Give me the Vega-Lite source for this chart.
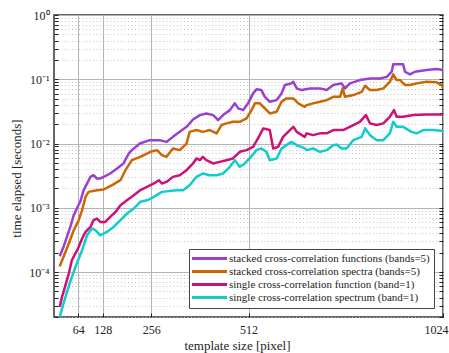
{
  "$schema": "https://vega.github.io/schema/vega-lite/v6.json",
  "width": 389,
  "height": 302,
  "autosize": {"type": "none"},
  "padding": {"left": 54, "top": 15, "right": 6, "bottom": 36},
  "background": "white",
  "config": {
    "view": {"stroke": "#333333", "strokeWidth": 1.5},
    "font": "Liberation Serif",
    "axis": {"labelFont": "Liberation Serif", "titleFont": "Liberation Serif", "titleFontWeight": "normal", "labelColor": "#222", "titleColor": "#222", "domain": false},
    "legend": {"labelFont": "Liberation Serif"}
  },
  "data": {"values": [
    {"series": "stacked cross-correlation functions (bands=5)", "size": 15, "time": 1.76e-4},
    {"series": "stacked cross-correlation functions (bands=5)", "size": 25, "time": 2.46e-4},
    {"series": "stacked cross-correlation functions (bands=5)", "size": 34, "time": 3.52e-4},
    {"series": "stacked cross-correlation functions (bands=5)", "size": 43, "time": 5.04e-4},
    {"series": "stacked cross-correlation functions (bands=5)", "size": 52, "time": 7.67e-4},
    {"series": "stacked cross-correlation functions (bands=5)", "size": 60, "time": 9.75e-4},
    {"series": "stacked cross-correlation functions (bands=5)", "size": 69, "time": 1.24e-3},
    {"series": "stacked cross-correlation functions (bands=5)", "size": 78, "time": 1.88e-3},
    {"series": "stacked cross-correlation functions (bands=5)", "size": 87, "time": 2.39e-3},
    {"series": "stacked cross-correlation functions (bands=5)", "size": 96, "time": 3.03e-3},
    {"series": "stacked cross-correlation functions (bands=5)", "size": 104, "time": 3.22e-3},
    {"series": "stacked cross-correlation functions (bands=5)", "size": 113, "time": 2.86e-3},
    {"series": "stacked cross-correlation functions (bands=5)", "size": 122, "time": 2.86e-3},
    {"series": "stacked cross-correlation functions (bands=5)", "size": 131, "time": 3.03e-3},
    {"series": "stacked cross-correlation functions (bands=5)", "size": 148, "time": 3.42e-3},
    {"series": "stacked cross-correlation functions (bands=5)", "size": 166, "time": 4.09e-3},
    {"series": "stacked cross-correlation functions (bands=5)", "size": 183, "time": 4.90e-3},
    {"series": "stacked cross-correlation functions (bands=5)", "size": 197, "time": 7.01e-3},
    {"series": "stacked cross-correlation functions (bands=5)", "size": 205, "time": 7.89e-3},
    {"series": "stacked cross-correlation functions (bands=5)", "size": 226, "time": 1.0e-2},
    {"series": "stacked cross-correlation functions (bands=5)", "size": 252, "time": 1.13e-2},
    {"series": "stacked cross-correlation functions (bands=5)", "size": 278, "time": 1.13e-2},
    {"series": "stacked cross-correlation functions (bands=5)", "size": 296, "time": 1.06e-2},
    {"series": "stacked cross-correlation functions (bands=5)", "size": 313, "time": 1.27e-2},
    {"series": "stacked cross-correlation functions (bands=5)", "size": 331, "time": 1.52e-2},
    {"series": "stacked cross-correlation functions (bands=5)", "size": 349, "time": 1.82e-2},
    {"series": "stacked cross-correlation functions (bands=5)", "size": 366, "time": 2.37e-2},
    {"series": "stacked cross-correlation functions (bands=5)", "size": 384, "time": 2.77e-2},
    {"series": "stacked cross-correlation functions (bands=5)", "size": 401, "time": 2.94e-2},
    {"series": "stacked cross-correlation functions (bands=5)", "size": 419, "time": 2.77e-2},
    {"series": "stacked cross-correlation functions (bands=5)", "size": 432, "time": 2.31e-2},
    {"series": "stacked cross-correlation functions (bands=5)", "size": 445, "time": 2.77e-2},
    {"series": "stacked cross-correlation functions (bands=5)", "size": 463, "time": 3.31e-2},
    {"series": "stacked cross-correlation functions (bands=5)", "size": 476, "time": 4.22e-2},
    {"series": "stacked cross-correlation functions (bands=5)", "size": 485, "time": 3.52e-2},
    {"series": "stacked cross-correlation functions (bands=5)", "size": 498, "time": 3.31e-2},
    {"series": "stacked cross-correlation functions (bands=5)", "size": 511, "time": 4.22e-2},
    {"series": "stacked cross-correlation functions (bands=5)", "size": 524, "time": 6.03e-2},
    {"series": "stacked cross-correlation functions (bands=5)", "size": 533, "time": 6.97e-2},
    {"series": "stacked cross-correlation functions (bands=5)", "size": 546, "time": 6.79e-2},
    {"series": "stacked cross-correlation functions (bands=5)", "size": 555, "time": 5.33e-2},
    {"series": "stacked cross-correlation functions (bands=5)", "size": 568, "time": 4.47e-2},
    {"series": "stacked cross-correlation functions (bands=5)", "size": 586, "time": 4.74e-2},
    {"series": "stacked cross-correlation functions (bands=5)", "size": 599, "time": 6.03e-2},
    {"series": "stacked cross-correlation functions (bands=5)", "size": 608, "time": 8.13e-2},
    {"series": "stacked cross-correlation functions (bands=5)", "size": 625, "time": 8.63e-2},
    {"series": "stacked cross-correlation functions (bands=5)", "size": 630, "time": 9.14e-2},
    {"series": "stacked cross-correlation functions (bands=5)", "size": 639, "time": 7.21e-2},
    {"series": "stacked cross-correlation functions (bands=5)", "size": 652, "time": 6.79e-2},
    {"series": "stacked cross-correlation functions (bands=5)", "size": 674, "time": 7.21e-2},
    {"series": "stacked cross-correlation functions (bands=5)", "size": 700, "time": 7.21e-2},
    {"series": "stacked cross-correlation functions (bands=5)", "size": 718, "time": 6.79e-2},
    {"series": "stacked cross-correlation functions (bands=5)", "size": 735, "time": 8.13e-2},
    {"series": "stacked cross-correlation functions (bands=5)", "size": 757, "time": 8.63e-2},
    {"series": "stacked cross-correlation functions (bands=5)", "size": 766, "time": 7.21e-2},
    {"series": "stacked cross-correlation functions (bands=5)", "size": 779, "time": 8.63e-2},
    {"series": "stacked cross-correlation functions (bands=5)", "size": 805, "time": 9.72e-2},
    {"series": "stacked cross-correlation functions (bands=5)", "size": 832, "time": 0.103},
    {"series": "stacked cross-correlation functions (bands=5)", "size": 858, "time": 0.103},
    {"series": "stacked cross-correlation functions (bands=5)", "size": 876, "time": 0.109},
    {"series": "stacked cross-correlation functions (bands=5)", "size": 889, "time": 0.131},
    {"series": "stacked cross-correlation functions (bands=5)", "size": 893, "time": 0.171},
    {"series": "stacked cross-correlation functions (bands=5)", "size": 919, "time": 0.171},
    {"series": "stacked cross-correlation functions (bands=5)", "size": 924, "time": 0.131},
    {"series": "stacked cross-correlation functions (bands=5)", "size": 937, "time": 0.119},
    {"series": "stacked cross-correlation functions (bands=5)", "size": 950, "time": 0.131},
    {"series": "stacked cross-correlation functions (bands=5)", "size": 981, "time": 0.139},
    {"series": "stacked cross-correlation functions (bands=5)", "size": 1007, "time": 0.144},
    {"series": "stacked cross-correlation functions (bands=5)", "size": 1024, "time": 0.139},

    {"series": "stacked cross-correlation spectra (bands=5)", "size": 15, "time": 1.23e-4},
    {"series": "stacked cross-correlation spectra (bands=5)", "size": 25, "time": 1.72e-4},
    {"series": "stacked cross-correlation spectra (bands=5)", "size": 39, "time": 2.78e-4},
    {"series": "stacked cross-correlation spectra (bands=5)", "size": 52, "time": 4.48e-4},
    {"series": "stacked cross-correlation spectra (bands=5)", "size": 65, "time": 6.41e-4},
    {"series": "stacked cross-correlation spectra (bands=5)", "size": 74, "time": 9.18e-4},
    {"series": "stacked cross-correlation spectra (bands=5)", "size": 83, "time": 1.48e-3},
    {"series": "stacked cross-correlation spectra (bands=5)", "size": 91, "time": 1.77e-3},
    {"series": "stacked cross-correlation spectra (bands=5)", "size": 113, "time": 1.88e-3},
    {"series": "stacked cross-correlation spectra (bands=5)", "size": 131, "time": 1.93e-3},
    {"series": "stacked cross-correlation spectra (bands=5)", "size": 153, "time": 2.25e-3},
    {"series": "stacked cross-correlation spectra (bands=5)", "size": 175, "time": 2.69e-3},
    {"series": "stacked cross-correlation spectra (bands=5)", "size": 188, "time": 3.85e-3},
    {"series": "stacked cross-correlation spectra (bands=5)", "size": 205, "time": 5.51e-3},
    {"series": "stacked cross-correlation spectra (bands=5)", "size": 227, "time": 6.21e-3},
    {"series": "stacked cross-correlation spectra (bands=5)", "size": 254, "time": 7.43e-3},
    {"series": "stacked cross-correlation spectra (bands=5)", "size": 271, "time": 7.89e-3},
    {"series": "stacked cross-correlation spectra (bands=5)", "size": 284, "time": 6.59e-3},
    {"series": "stacked cross-correlation spectra (bands=5)", "size": 296, "time": 6.21e-3},
    {"series": "stacked cross-correlation spectra (bands=5)", "size": 313, "time": 8.39e-3},
    {"series": "stacked cross-correlation spectra (bands=5)", "size": 331, "time": 7.89e-3},
    {"series": "stacked cross-correlation spectra (bands=5)", "size": 349, "time": 1.0e-2},
    {"series": "stacked cross-correlation spectra (bands=5)", "size": 357, "time": 1.52e-2},
    {"series": "stacked cross-correlation spectra (bands=5)", "size": 375, "time": 1.62e-2},
    {"series": "stacked cross-correlation spectra (bands=5)", "size": 392, "time": 1.52e-2},
    {"series": "stacked cross-correlation spectra (bands=5)", "size": 410, "time": 1.62e-2},
    {"series": "stacked cross-correlation spectra (bands=5)", "size": 428, "time": 1.44e-2},
    {"series": "stacked cross-correlation spectra (bands=5)", "size": 441, "time": 1.94e-2},
    {"series": "stacked cross-correlation spectra (bands=5)", "size": 454, "time": 2.06e-2},
    {"series": "stacked cross-correlation spectra (bands=5)", "size": 471, "time": 2.18e-2},
    {"series": "stacked cross-correlation spectra (bands=5)", "size": 489, "time": 2.18e-2},
    {"series": "stacked cross-correlation spectra (bands=5)", "size": 507, "time": 2.46e-2},
    {"series": "stacked cross-correlation spectra (bands=5)", "size": 520, "time": 3.31e-2},
    {"series": "stacked cross-correlation spectra (bands=5)", "size": 529, "time": 4.22e-2},
    {"series": "stacked cross-correlation spectra (bands=5)", "size": 542, "time": 4.22e-2},
    {"series": "stacked cross-correlation spectra (bands=5)", "size": 555, "time": 3.52e-2},
    {"series": "stacked cross-correlation spectra (bands=5)", "size": 568, "time": 2.94e-2},
    {"series": "stacked cross-correlation spectra (bands=5)", "size": 586, "time": 3.12e-2},
    {"series": "stacked cross-correlation spectra (bands=5)", "size": 599, "time": 4.47e-2},
    {"series": "stacked cross-correlation spectra (bands=5)", "size": 612, "time": 5.04e-2},
    {"series": "stacked cross-correlation spectra (bands=5)", "size": 630, "time": 5.04e-2},
    {"series": "stacked cross-correlation spectra (bands=5)", "size": 643, "time": 4.22e-2},
    {"series": "stacked cross-correlation spectra (bands=5)", "size": 660, "time": 3.73e-2},
    {"series": "stacked cross-correlation spectra (bands=5)", "size": 665, "time": 3.96e-2},
    {"series": "stacked cross-correlation spectra (bands=5)", "size": 682, "time": 4.22e-2},
    {"series": "stacked cross-correlation spectra (bands=5)", "size": 700, "time": 4.47e-2},
    {"series": "stacked cross-correlation spectra (bands=5)", "size": 718, "time": 4.74e-2},
    {"series": "stacked cross-correlation spectra (bands=5)", "size": 735, "time": 5.33e-2},
    {"series": "stacked cross-correlation spectra (bands=5)", "size": 753, "time": 5.33e-2},
    {"series": "stacked cross-correlation spectra (bands=5)", "size": 760, "time": 7.21e-2},
    {"series": "stacked cross-correlation spectra (bands=5)", "size": 766, "time": 5.33e-2},
    {"series": "stacked cross-correlation spectra (bands=5)", "size": 788, "time": 5.68e-2},
    {"series": "stacked cross-correlation spectra (bands=5)", "size": 810, "time": 6.38e-2},
    {"series": "stacked cross-correlation spectra (bands=5)", "size": 819, "time": 7.93e-2},
    {"series": "stacked cross-correlation spectra (bands=5)", "size": 832, "time": 6.79e-2},
    {"series": "stacked cross-correlation spectra (bands=5)", "size": 849, "time": 6.79e-2},
    {"series": "stacked cross-correlation spectra (bands=5)", "size": 867, "time": 7.21e-2},
    {"series": "stacked cross-correlation spectra (bands=5)", "size": 884, "time": 9.14e-2},
    {"series": "stacked cross-correlation spectra (bands=5)", "size": 893, "time": 0.119},
    {"series": "stacked cross-correlation spectra (bands=5)", "size": 902, "time": 9.72e-2},
    {"series": "stacked cross-correlation spectra (bands=5)", "size": 911, "time": 9.72e-2},
    {"series": "stacked cross-correlation spectra (bands=5)", "size": 924, "time": 8.13e-2},
    {"series": "stacked cross-correlation spectra (bands=5)", "size": 937, "time": 8.13e-2},
    {"series": "stacked cross-correlation spectra (bands=5)", "size": 955, "time": 8.63e-2},
    {"series": "stacked cross-correlation spectra (bands=5)", "size": 981, "time": 9.14e-2},
    {"series": "stacked cross-correlation spectra (bands=5)", "size": 1007, "time": 8.95e-2},
    {"series": "stacked cross-correlation spectra (bands=5)", "size": 1021, "time": 8.13e-2},
    {"series": "stacked cross-correlation spectra (bands=5)", "size": 1024, "time": 7.21e-2},

    {"series": "single cross-correlation function (band=1)", "size": 15, "time": 2.86e-5},
    {"series": "single cross-correlation function (band=1)", "size": 21, "time": 4.09e-5},
    {"series": "single cross-correlation function (band=1)", "size": 30, "time": 6.22e-5},
    {"series": "single cross-correlation function (band=1)", "size": 39, "time": 9.48e-5},
    {"series": "single cross-correlation function (band=1)", "size": 47, "time": 1.53e-4},
    {"series": "single cross-correlation function (band=1)", "size": 56, "time": 1.94e-4},
    {"series": "single cross-correlation function (band=1)", "size": 65, "time": 2.46e-4},
    {"series": "single cross-correlation function (band=1)", "size": 74, "time": 3.33e-4},
    {"series": "single cross-correlation function (band=1)", "size": 83, "time": 4.22e-4},
    {"series": "single cross-correlation function (band=1)", "size": 96, "time": 5.04e-4},
    {"series": "single cross-correlation function (band=1)", "size": 104, "time": 6.41e-4},
    {"series": "single cross-correlation function (band=1)", "size": 113, "time": 6.81e-4},
    {"series": "single cross-correlation function (band=1)", "size": 122, "time": 6.03e-4},
    {"series": "single cross-correlation function (band=1)", "size": 135, "time": 6.03e-4},
    {"series": "single cross-correlation function (band=1)", "size": 148, "time": 7.21e-4},
    {"series": "single cross-correlation function (band=1)", "size": 162, "time": 8.63e-4},
    {"series": "single cross-correlation function (band=1)", "size": 175, "time": 1.10e-3},
    {"series": "single cross-correlation function (band=1)", "size": 192, "time": 1.31e-3},
    {"series": "single cross-correlation function (band=1)", "size": 210, "time": 1.57e-3},
    {"series": "single cross-correlation function (band=1)", "size": 227, "time": 1.88e-3},
    {"series": "single cross-correlation function (band=1)", "size": 245, "time": 2.12e-3},
    {"series": "single cross-correlation function (band=1)", "size": 263, "time": 2.39e-3},
    {"series": "single cross-correlation function (band=1)", "size": 276, "time": 2.69e-3},
    {"series": "single cross-correlation function (band=1)", "size": 284, "time": 2.39e-3},
    {"series": "single cross-correlation function (band=1)", "size": 296, "time": 2.53e-3},
    {"series": "single cross-correlation function (band=1)", "size": 313, "time": 3.03e-3},
    {"series": "single cross-correlation function (band=1)", "size": 331, "time": 3.22e-3},
    {"series": "single cross-correlation function (band=1)", "size": 349, "time": 3.85e-3},
    {"series": "single cross-correlation function (band=1)", "size": 366, "time": 4.90e-3},
    {"series": "single cross-correlation function (band=1)", "size": 375, "time": 5.86e-3},
    {"series": "single cross-correlation function (band=1)", "size": 384, "time": 5.51e-3},
    {"series": "single cross-correlation function (band=1)", "size": 392, "time": 6.21e-3},
    {"series": "single cross-correlation function (band=1)", "size": 401, "time": 5.51e-3},
    {"series": "single cross-correlation function (band=1)", "size": 419, "time": 4.90e-3},
    {"series": "single cross-correlation function (band=1)", "size": 436, "time": 5.19e-3},
    {"series": "single cross-correlation function (band=1)", "size": 454, "time": 5.51e-3},
    {"series": "single cross-correlation function (band=1)", "size": 471, "time": 5.86e-3},
    {"series": "single cross-correlation function (band=1)", "size": 489, "time": 7.43e-3},
    {"series": "single cross-correlation function (band=1)", "size": 507, "time": 7.89e-3},
    {"series": "single cross-correlation function (band=1)", "size": 524, "time": 8.89e-3},
    {"series": "single cross-correlation function (band=1)", "size": 537, "time": 1.20e-2},
    {"series": "single cross-correlation function (band=1)", "size": 551, "time": 1.72e-2},
    {"series": "single cross-correlation function (band=1)", "size": 568, "time": 1.62e-2},
    {"series": "single cross-correlation function (band=1)", "size": 577, "time": 8.39e-3},
    {"series": "single cross-correlation function (band=1)", "size": 590, "time": 8.89e-3},
    {"series": "single cross-correlation function (band=1)", "size": 603, "time": 1.27e-2},
    {"series": "single cross-correlation function (band=1)", "size": 621, "time": 1.62e-2},
    {"series": "single cross-correlation function (band=1)", "size": 630, "time": 1.82e-2},
    {"series": "single cross-correlation function (band=1)", "size": 639, "time": 1.52e-2},
    {"series": "single cross-correlation function (band=1)", "size": 660, "time": 1.27e-2},
    {"series": "single cross-correlation function (band=1)", "size": 665, "time": 1.44e-2},
    {"series": "single cross-correlation function (band=1)", "size": 682, "time": 1.35e-2},
    {"series": "single cross-correlation function (band=1)", "size": 700, "time": 1.44e-2},
    {"series": "single cross-correlation function (band=1)", "size": 718, "time": 1.44e-2},
    {"series": "single cross-correlation function (band=1)", "size": 735, "time": 1.62e-2},
    {"series": "single cross-correlation function (band=1)", "size": 761, "time": 1.62e-2},
    {"series": "single cross-correlation function (band=1)", "size": 788, "time": 1.94e-2},
    {"series": "single cross-correlation function (band=1)", "size": 805, "time": 2.18e-2},
    {"series": "single cross-correlation function (band=1)", "size": 821, "time": 2.77e-2},
    {"series": "single cross-correlation function (band=1)", "size": 832, "time": 2.06e-2},
    {"series": "single cross-correlation function (band=1)", "size": 849, "time": 1.94e-2},
    {"series": "single cross-correlation function (band=1)", "size": 867, "time": 2.06e-2},
    {"series": "single cross-correlation function (band=1)", "size": 884, "time": 2.61e-2},
    {"series": "single cross-correlation function (band=1)", "size": 895, "time": 3.31e-2},
    {"series": "single cross-correlation function (band=1)", "size": 902, "time": 2.61e-2},
    {"series": "single cross-correlation function (band=1)", "size": 919, "time": 2.61e-2},
    {"series": "single cross-correlation function (band=1)", "size": 946, "time": 2.77e-2},
    {"series": "single cross-correlation function (band=1)", "size": 981, "time": 2.84e-2},
    {"series": "single cross-correlation function (band=1)", "size": 1024, "time": 2.84e-2},

    {"series": "single cross-correlation spectrum (band=1)", "size": 15, "time": 2.0e-5},
    {"series": "single cross-correlation spectrum (band=1)", "size": 25, "time": 3.23e-5},
    {"series": "single cross-correlation spectrum (band=1)", "size": 34, "time": 4.90e-5},
    {"series": "single cross-correlation spectrum (band=1)", "size": 47, "time": 8.39e-5},
    {"series": "single cross-correlation spectrum (band=1)", "size": 60, "time": 1.36e-4},
    {"series": "single cross-correlation spectrum (band=1)", "size": 74, "time": 2.19e-4},
    {"series": "single cross-correlation spectrum (band=1)", "size": 87, "time": 3.74e-4},
    {"series": "single cross-correlation spectrum (band=1)", "size": 100, "time": 4.76e-4},
    {"series": "single cross-correlation spectrum (band=1)", "size": 109, "time": 4.48e-4},
    {"series": "single cross-correlation spectrum (band=1)", "size": 122, "time": 3.74e-4},
    {"series": "single cross-correlation spectrum (band=1)", "size": 139, "time": 4.22e-4},
    {"series": "single cross-correlation spectrum (band=1)", "size": 157, "time": 5.04e-4},
    {"series": "single cross-correlation spectrum (band=1)", "size": 175, "time": 6.41e-4},
    {"series": "single cross-correlation spectrum (band=1)", "size": 192, "time": 8.15e-4},
    {"series": "single cross-correlation spectrum (band=1)", "size": 210, "time": 9.75e-4},
    {"series": "single cross-correlation spectrum (band=1)", "size": 227, "time": 1.24e-3},
    {"series": "single cross-correlation spectrum (band=1)", "size": 245, "time": 1.31e-3},
    {"series": "single cross-correlation spectrum (band=1)", "size": 263, "time": 1.48e-3},
    {"series": "single cross-correlation spectrum (band=1)", "size": 284, "time": 1.77e-3},
    {"series": "single cross-correlation spectrum (band=1)", "size": 322, "time": 1.88e-3},
    {"series": "single cross-correlation spectrum (band=1)", "size": 340, "time": 1.88e-3},
    {"series": "single cross-correlation spectrum (band=1)", "size": 357, "time": 2.25e-3},
    {"series": "single cross-correlation spectrum (band=1)", "size": 375, "time": 3.03e-3},
    {"series": "single cross-correlation spectrum (band=1)", "size": 392, "time": 3.42e-3},
    {"series": "single cross-correlation spectrum (band=1)", "size": 410, "time": 3.22e-3},
    {"series": "single cross-correlation spectrum (band=1)", "size": 428, "time": 3.22e-3},
    {"series": "single cross-correlation spectrum (band=1)", "size": 445, "time": 3.42e-3},
    {"series": "single cross-correlation spectrum (band=1)", "size": 463, "time": 4.34e-3},
    {"series": "single cross-correlation spectrum (band=1)", "size": 476, "time": 5.51e-3},
    {"series": "single cross-correlation spectrum (band=1)", "size": 489, "time": 4.34e-3},
    {"series": "single cross-correlation spectrum (band=1)", "size": 502, "time": 4.90e-3},
    {"series": "single cross-correlation spectrum (band=1)", "size": 515, "time": 5.86e-3},
    {"series": "single cross-correlation spectrum (band=1)", "size": 533, "time": 7.89e-3},
    {"series": "single cross-correlation spectrum (band=1)", "size": 546, "time": 8.39e-3},
    {"series": "single cross-correlation spectrum (band=1)", "size": 559, "time": 7.43e-3},
    {"series": "single cross-correlation spectrum (band=1)", "size": 568, "time": 5.51e-3},
    {"series": "single cross-correlation spectrum (band=1)", "size": 586, "time": 5.86e-3},
    {"series": "single cross-correlation spectrum (band=1)", "size": 599, "time": 8.39e-3},
    {"series": "single cross-correlation spectrum (band=1)", "size": 612, "time": 9.44e-3},
    {"series": "single cross-correlation spectrum (band=1)", "size": 625, "time": 1.06e-2},
    {"series": "single cross-correlation spectrum (band=1)", "size": 639, "time": 9.44e-3},
    {"series": "single cross-correlation spectrum (band=1)", "size": 660, "time": 8.39e-3},
    {"series": "single cross-correlation spectrum (band=1)", "size": 665, "time": 7.89e-3},
    {"series": "single cross-correlation spectrum (band=1)", "size": 682, "time": 8.39e-3},
    {"series": "single cross-correlation spectrum (band=1)", "size": 700, "time": 7.43e-3},
    {"series": "single cross-correlation spectrum (band=1)", "size": 718, "time": 7.89e-3},
    {"series": "single cross-correlation spectrum (band=1)", "size": 735, "time": 9.44e-3},
    {"series": "single cross-correlation spectrum (band=1)", "size": 744, "time": 9.68e-3},
    {"series": "single cross-correlation spectrum (band=1)", "size": 757, "time": 8.39e-3},
    {"series": "single cross-correlation spectrum (band=1)", "size": 770, "time": 8.39e-3},
    {"series": "single cross-correlation spectrum (band=1)", "size": 788, "time": 1.13e-2},
    {"series": "single cross-correlation spectrum (band=1)", "size": 810, "time": 1.27e-2},
    {"series": "single cross-correlation spectrum (band=1)", "size": 819, "time": 1.72e-2},
    {"series": "single cross-correlation spectrum (band=1)", "size": 832, "time": 1.35e-2},
    {"series": "single cross-correlation spectrum (band=1)", "size": 849, "time": 1.13e-2},
    {"series": "single cross-correlation spectrum (band=1)", "size": 867, "time": 1.13e-2},
    {"series": "single cross-correlation spectrum (band=1)", "size": 884, "time": 1.44e-2},
    {"series": "single cross-correlation spectrum (band=1)", "size": 893, "time": 2.18e-2},
    {"series": "single cross-correlation spectrum (band=1)", "size": 902, "time": 1.82e-2},
    {"series": "single cross-correlation spectrum (band=1)", "size": 919, "time": 1.82e-2},
    {"series": "single cross-correlation spectrum (band=1)", "size": 941, "time": 1.52e-2},
    {"series": "single cross-correlation spectrum (band=1)", "size": 955, "time": 1.44e-2},
    {"series": "single cross-correlation spectrum (band=1)", "size": 972, "time": 1.62e-2},
    {"series": "single cross-correlation spectrum (band=1)", "size": 999, "time": 1.62e-2},
    {"series": "single cross-correlation spectrum (band=1)", "size": 1024, "time": 1.56e-2}
  ]},
  "layer": [
    {
      "mark": {"type": "line", "strokeWidth": 2.5, "clip": true, "strokeJoin": "round"},
      "encoding": {
        "x": {"field": "size", "type": "quantitative", "scale": {"domain": [0, 1024], "nice": false},
          "axis": {"title": "template size [pixel]", "values": [64, 128, 256, 512, 1024], "format": "d", "grid": true, "gridColor": "#b4b4b4", "gridWidth": 1,
            "tickSize": -4, "tickColor": "#222", "labelFontSize": 12, "titleFontSize": 13, "labelPadding": 11, "titlePadding": 4, "titleX": 183,
            "labelFlush": true, "labelFlushOffset": 5}},
        "y": {"field": "time", "type": "quantitative", "scale": {"type": "log", "domain": [0.00002, 1], "nice": false},
          "axis": {"title": "time elapsed [seconds]", "titleFontSize": 13, "titleX": -31, "titleY": 163, "labelFontSize": 12, "labelPadding": 9,
            "values": [0.00002, 0.00003, 0.00004, 0.00005, 0.00006, 0.00007, 0.00008, 0.00009, 0.0001, 0.0002, 0.0003, 0.0004, 0.0005, 0.0006, 0.0007, 0.0008, 0.0009, 0.001, 0.002, 0.003, 0.004, 0.005, 0.006, 0.007, 0.008, 0.009, 0.01, 0.02, 0.03, 0.04, 0.05, 0.06, 0.07, 0.08, 0.09, 0.1, 0.2, 0.3, 0.4, 0.5, 0.6, 0.7, 0.8, 0.9, 1],
            "labelExpr": "datum.value == 1 ? '10⁰' : datum.value == 0.1 ? '10⁻¹' : datum.value == 0.01 ? '10⁻²' : datum.value == 0.001 ? '10⁻³' : datum.value == 0.0001 ? '10⁻⁴' : ''",
            "grid": true,
            "gridColor": {"condition": {"test": "indexof([1, 0.1, 0.01, 0.001, 0.0001], datum.value) >= 0", "value": "#b4b4b4"}, "value": "#c4c4c4"},
            "gridDash": {"condition": {"test": "indexof([1, 0.1, 0.01, 0.001, 0.0001], datum.value) >= 0", "value": []}, "value": [1, 2.5]},
            "tickSize": -4, "tickColor": "#222"}},
        "color": {"field": "series", "type": "nominal",
          "scale": {"domain": ["stacked cross-correlation functions (bands=5)", "stacked cross-correlation spectra (bands=5)", "single cross-correlation function (band=1)", "single cross-correlation spectrum (band=1)"],
                    "range": ["#9b3fd1", "#cc6600", "#cc1177", "#11cccc"]},
          "legend": {"title": null, "orient": "bottom-right", "offset": 9, "fillColor": "white", "strokeColor": "#444", "padding": 4, "cornerRadius": 0,
            "symbolType": "M-4.4,0H4.4", "symbolSize": 64, "symbolStrokeWidth": 3, "symbolOffset": 11, "labelOffset": 14,
            "labelFont": "Liberation Serif", "labelFontSize": 11, "labelColor": "#222", "rowPadding": 0, "labelLimit": 300}}
      }
    },
    {
      "mark": {"type": "line", "strokeOpacity": 0},
      "encoding": {
        "x": {"field": "size", "type": "quantitative", "scale": {"domain": [0, 1024], "nice": false},
          "axis": {"title": "template size [pixel]", "values": [64, 128, 256, 512, 1024], "format": "d", "grid": true, "gridColor": "#b4b4b4", "gridWidth": 1,
            "tickSize": -4, "tickColor": "#222", "labelFontSize": 12, "titleFontSize": 13, "labelPadding": 11, "titlePadding": 4, "titleX": 183,
            "labelFlush": true, "labelFlushOffset": 5}},
        "y": {"field": "time", "type": "quantitative",
          "axis": {"orient": "right", "title": null, "labels": false, "grid": false, "tickSize": -4, "tickColor": "#222",
            "values": [0.00002, 0.00003, 0.00004, 0.00005, 0.00006, 0.00007, 0.00008, 0.00009, 0.0001, 0.0002, 0.0003, 0.0004, 0.0005, 0.0006, 0.0007, 0.0008, 0.0009, 0.001, 0.002, 0.003, 0.004, 0.005, 0.006, 0.007, 0.008, 0.009, 0.01, 0.02, 0.03, 0.04, 0.05, 0.06, 0.07, 0.08, 0.09, 0.1, 0.2, 0.3, 0.4, 0.5, 0.6, 0.7, 0.8, 0.9, 1]}},
        "detail": {"field": "series", "type": "nominal"}
      }
    }
  ],
  "resolve": {"axis": {"y": "independent"}}
}
